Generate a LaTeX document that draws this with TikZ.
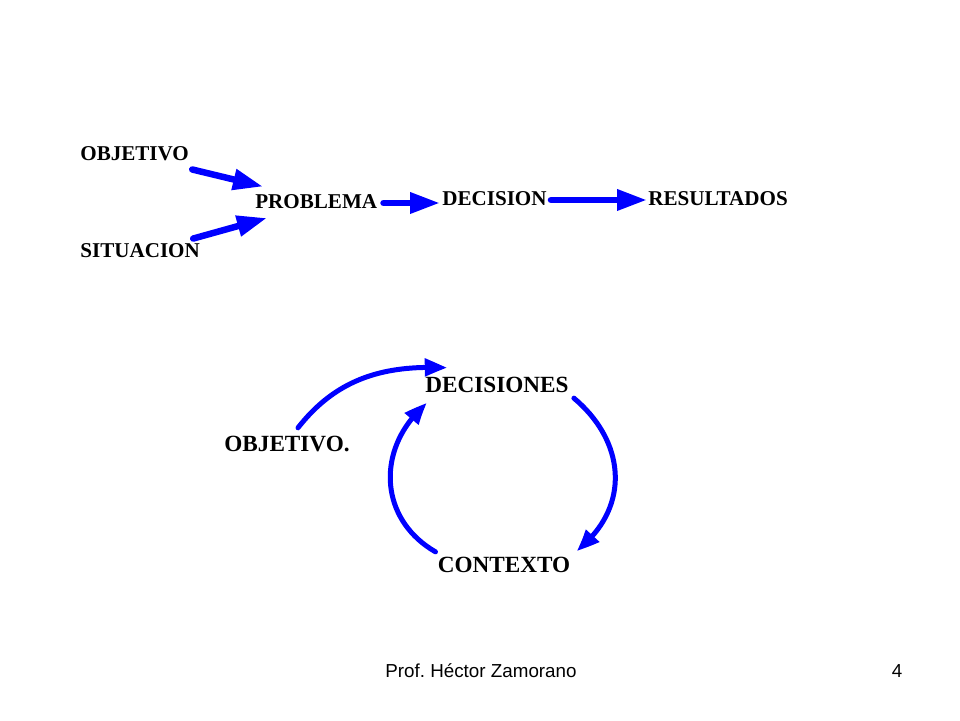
\documentclass[tikz,border=0pt]{standalone}
\usepackage{fontspec}
\setmainfont{Liberation Serif}
\setsansfont{Liberation Sans}
\usetikzlibrary{arrows.meta, bending}
\frenchspacing
\tikzstyle{topword} = [inner sep=0pt, anchor=west, font=\fontsize{12}{14}\selectfont\bfseries]
\tikzstyle{cycleword} = [inner sep=0pt, font=\fontsize{13.2}{15}\selectfont\bfseries]
\tikzstyle{footer} = [inner sep=0pt, font=\sffamily\fontsize{10.7}{13}\selectfont]
\tikzstyle{arrow} = [draw=blue, line width=0.13cm, line cap=round, -{Triangle[length=0.6cm,width=0.4cm]}]
\tikzstyle{loop} = [draw=blue, line width=0.1cm, line cap=round, -{Triangle[length=0.45cm,width=0.34cm,bend]}]

\begin{document}
\begin{tikzpicture}[x=0.02cm, y=0.02cm]
\useasboundingbox (0,0) rectangle (960,720);

    \node (objA) [topword] at (80,566) {OBJETIVO};
    \node (sitA) [topword] at (80,469) {SITUACION};
    \node (probA) [topword] at (255,518) {PROBLEMA};
    \node (decA) [topword] at (442,521) {DECISION};
    \node (resA) [topword] at (648,521) {RESULTADOS};

    \node (decB) [cycleword] at (497,335) {DECISIONES};
    \node (objB) [cycleword] at (287,276) {OBJETIVO.};
    \node (conB) [cycleword] at (504,155) {CONTEXTO};

    \node (prof) [footer] at (481,49) {Prof. Héctor Zamorano};
    \node (page) [footer] at (897,49) {4};

    \draw [arrow] ([shift={(3,-8)}]objA.south east) -- ([shift={(8,8)}]probA.north west);
    \draw [arrow] ([shift={(-7,5)}]sitA.north east) -- ([shift={(12,-16)}]probA.west);
    \draw [arrow] ([shift={(6,-1)}]probA.east) -- ([shift={(-2,-4)}]decA.west);
    \draw [arrow] ([shift={(4,-1)}]decA.east) -- ([shift={(-1,-1)}]resA.west);

    \draw [loop] ([shift={(11,8)}]objB.north) to[out=52, in=177] ([shift={(22,9)}]decB.north west);
    \draw [loop] ([shift={(5,-5)}]decB.south east) to[out=-40, in=38, looseness=1.15] ([shift={(6,6)}]conB.north east);
    \draw [loop] ([shift={(-2,5)}]conB.north west) to[out=150, in=-140, looseness=1.15] ([shift={(2,-10)}]decB.south west);

\end{tikzpicture}
\end{document}
